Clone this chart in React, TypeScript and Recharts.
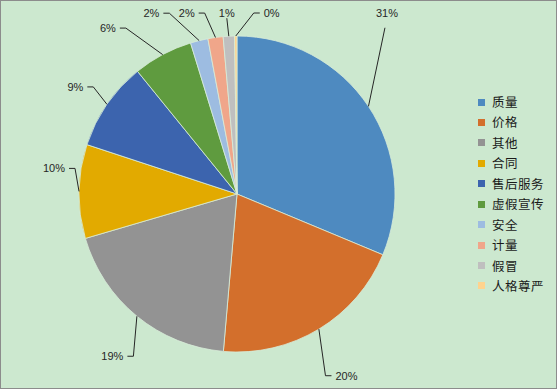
import React from 'react';
import { PieChart, Pie, Cell, Legend } from 'recharts';

const categories = ['质量', '价格', '其他', '合同', '售后服务', '虚假宣传', '安全', '计量', '假冒', '人格尊严'];
const shares = [31.3, 20.1, 19.1, 9.6, 9.1, 6.1, 1.8, 1.55, 1.15, 0.25];
const colors = ['#4E8AC0', '#D36F2C', '#939393', '#E2AA00', '#3C64AE', '#5F9B3F', '#9DBCE1', '#F0A68A', '#BFBFBF', '#FFD38E'];

// leader-line elbow offsets relative to each slice's outer edge point (layout only)
const labelLayout: { ex: number; ey: number; side: 'up' | 'left' | 'right'; ty?: number; tx?: number }[] = [
  { ex: 16.5, ey: -78.6, side: 'up', tx: 2, ty: -15 },
  { ex: 6.6, ey: 46.6, side: 'right' },
  { ex: -3.5, ey: 40, side: 'left' },
  { ex: -4, ey: -23, side: 'left' },
  { ex: -13.6, ey: -17.4, side: 'left' },
  { ex: -36.8, ey: -26.5, side: 'left' },
  { ex: -29.8, ey: -27.4, side: 'left' },
  { ex: -10.8, ey: -24.4, side: 'left' },
  { ex: -2, ey: -18, side: 'up', tx: 0, ty: -5 },
  { ex: 18, ey: -23, side: 'right' },
];

const data = categories.map((name, i) => ({ name, value: shares[i] }));

const RAD = Math.PI / 180;

const renderLabel = (props: any) => {
  const { cx, cy, midAngle, outerRadius, index, percent } = props;
  const lay = labelLayout[index];
  const x0 = cx + outerRadius * Math.cos(-midAngle * RAD);
  const y0 = cy + outerRadius * Math.sin(-midAngle * RAD);
  const x1 = x0 + lay.ex;
  const y1 = y0 + lay.ey;
  const txt = `${Math.round(percent * 100)}%`;
  const common = { fontSize: 11, fill: '#262626', fontFamily: '"Liberation Sans", Arial, sans-serif' } as const;
  if (lay.side === 'up') {
    return (
      <g key={`l${index}`}>
        <line x1={x0} y1={y0} x2={x1} y2={y1} stroke="#262626" strokeWidth={1} />
        <text x={x1 + (lay.tx || 0)} y={y1 + (lay.ty || 0)} textAnchor="middle" dominantBaseline="central" {...common}>{txt}</text>
      </g>
    );
  }
  const dir = lay.side === 'left' ? -1 : 1;
  const x2 = x1 + dir * 6;
  return (
    <g key={`l${index}`}>
      <polyline points={`${x0},${y0} ${x1},${y1} ${x2},${y1}`} fill="none" stroke="#262626" strokeWidth={1} />
      <text x={x2 + dir * 4} y={y1} textAnchor={dir < 0 ? 'end' : 'start'} dominantBaseline="central" {...common}>{txt}</text>
    </g>
  );
};

const renderLegend = () => (
  <div style={{ fontFamily: '"Noto Sans CJK SC", sans-serif', fontSize: 12.5, color: '#1a1a1a' }}>
    {categories.map((c, i) => (
      <div key={c} style={{ display: 'flex', alignItems: 'center', height: 20.44 }}>
        <span style={{ display: 'inline-block', width: 7, height: 7, background: colors[i], marginRight: 7 }} />
        <span style={{ letterSpacing: 0.5, lineHeight: '20px' }}>{c}</span>
      </div>
    ))}
  </div>
);

export default function App() {
  return (
    <div
      style={{
        position: 'fixed',
        left: 0,
        top: 0,
        width: 557,
        height: 389,
        background: '#CCE8CF',
        border: '1px solid #8c8c8c',
        boxSizing: 'border-box',
        overflow: 'hidden',
      }}
    >
      <div style={{ position: 'absolute', left: -1, top: -1 }}>
        <PieChart width={557} height={389} margin={{ top: 0, right: 0, bottom: 0, left: 0 }}>
          <Pie
            data={data}
            dataKey="value"
            nameKey="name"
            cx={237}
            cy={194}
            outerRadius={158}
            startAngle={90}
            endAngle={-270}
            stroke="#d8ecd9"
            strokeWidth={0.8}
            label={renderLabel}
            labelLine={false}
            isAnimationActive={false}
          >
            {data.map((d, i) => (
              <Cell key={d.name} fill={colors[i]} />
            ))}
          </Pie>
          <Legend
            content={renderLegend}
            layout="vertical"
            wrapperStyle={{ position: 'absolute', left: 478, top: 91.8, width: 80 }}
          />
        </PieChart>
      </div>
    </div>
  );
}
